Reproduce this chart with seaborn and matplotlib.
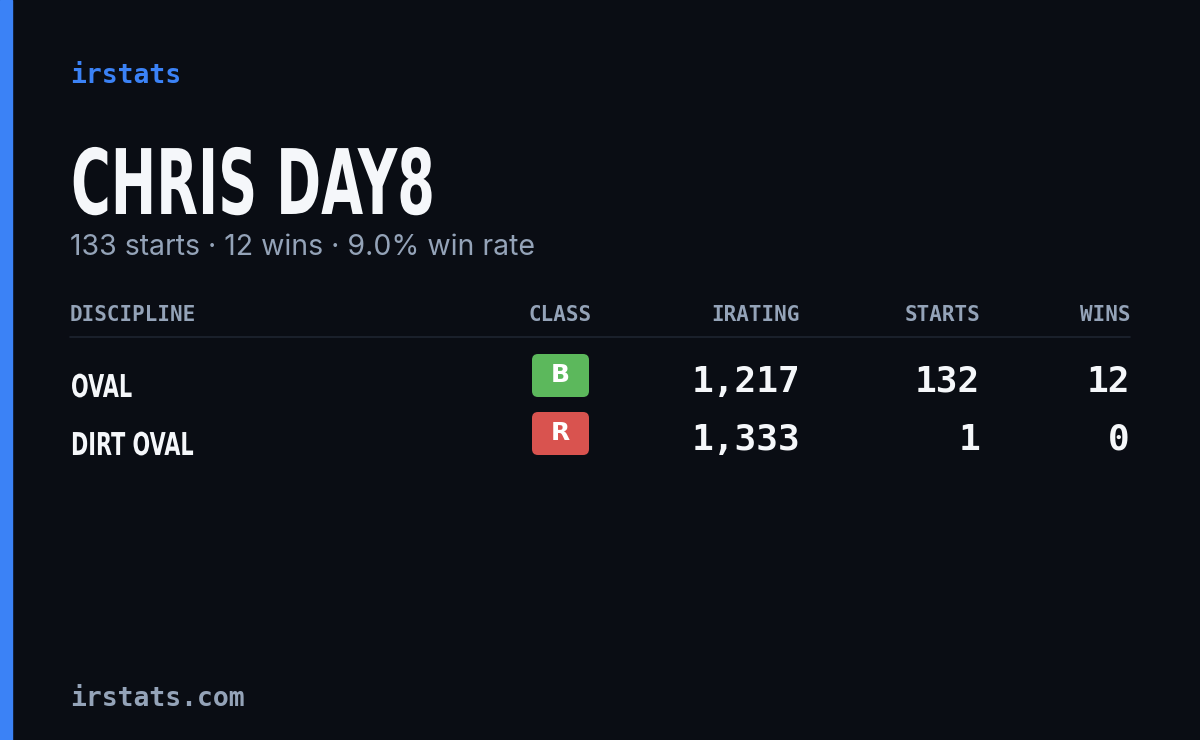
import matplotlib.pyplot as plt
import matplotlib.patches as mpatches
from matplotlib.textpath import TextPath
from matplotlib.font_manager import FontProperties
from matplotlib.transforms import Affine2D
import seaborn as sns

BG = "#0a0d14"
ACCENT = "#3b82f6"
MUTED = "#94a3b8"
WHITE = "#f5f7fa"

driver = "CHRIS DAY8"
total_starts = 133
total_wins = 12
win_rate = 9.0

headers = ["DISCIPLINE", "CLASS", "IRATING", "STARTS", "WINS"]
disciplines = ["OVAL", "DIRT OVAL"]
classes = ["B", "R"]
class_colors = ["#5cb85c", "#d9534f"]
iratings = [1217, 1333]
starts = [132, 1]
wins = [12, 0]

sns.set_theme(style="dark")
plt.rcParams["font.family"] = ["DejaVu Sans"]

fig = plt.figure(figsize=(12, 7.4), dpi=100, facecolor=BG)
ax = fig.add_axes([0, 0, 1, 1])
ax.set_facecolor(BG)
ax.set_xlim(0, 1200)
ax.set_ylim(740, 0)
ax.axis("off")

ax.add_patch(mpatches.Rectangle((0, 0), 12, 740, color=ACCENT))

mono = "DejaVu Sans Mono"
bold_fp = FontProperties(family="DejaVu Sans", weight="bold")


def condensed_text(x, y, s, cap_h, squeeze):
    # draw text as a path, squeezed horizontally to mimic a condensed face
    size = cap_h / 0.73
    tp = TextPath((0, 0), s, size=size, prop=bold_fp)
    tr = Affine2D().scale(squeeze, -1).translate(x, y)
    ax.add_patch(mpatches.PathPatch(tr.transform_path(tp), color=WHITE, lw=0))


ax.text(70, 83, "irstats", color=ACCENT, fontsize=19, family=mono,
        fontweight="bold", va="baseline")
condensed_text(71, 214, driver, 66, 0.60)
ax.text(70, 255, f"{total_starts} starts · {total_wins} wins · {win_rate:.1f}% win rate",
        color=MUTED, fontsize=20.5, family=["Inter", "DejaVu Sans"], va="baseline")

col_x = [70, 560, 800, 980, 1130]
col_ha = ["left", "center", "right", "right", "right"]
for h, x, ha in zip(headers, col_x, col_ha):
    ax.text(x, 321, h, color=MUTED, fontsize=15, family=mono, fontweight="bold",
            ha=ha, va="baseline")
ax.plot([70, 1130], [337, 337], color="#1e2430", linewidth=1.2)

row_h = 58
for i, (d, c, cc, ir, s, w) in enumerate(zip(disciplines, classes, class_colors,
                                              iratings, starts, wins)):
    y = 397 + i * row_h
    condensed_text(71, y, d, 23, 0.66)
    ax.add_patch(mpatches.FancyBboxPatch((532, y - 43), 57, 43,
                                         boxstyle="round,pad=0,rounding_size=6",
                                         color=cc, linewidth=0))
    ax.text(560.5, y - 22, c, color="white", fontsize=18, fontweight="bold",
            ha="center", va="center")
    for val, x in zip([f"{ir:,}", f"{s}", f"{w}"], col_x[2:]):
        ax.text(x, y - 5, val, color=WHITE, fontsize=26, family=mono,
                fontweight="bold", ha="right", va="baseline")

ax.text(70, 706, "irstats.com", color=MUTED, fontsize=19, family=mono,
        fontweight="bold", va="baseline")

fig.savefig("out.png", dpi=100, facecolor=BG)
